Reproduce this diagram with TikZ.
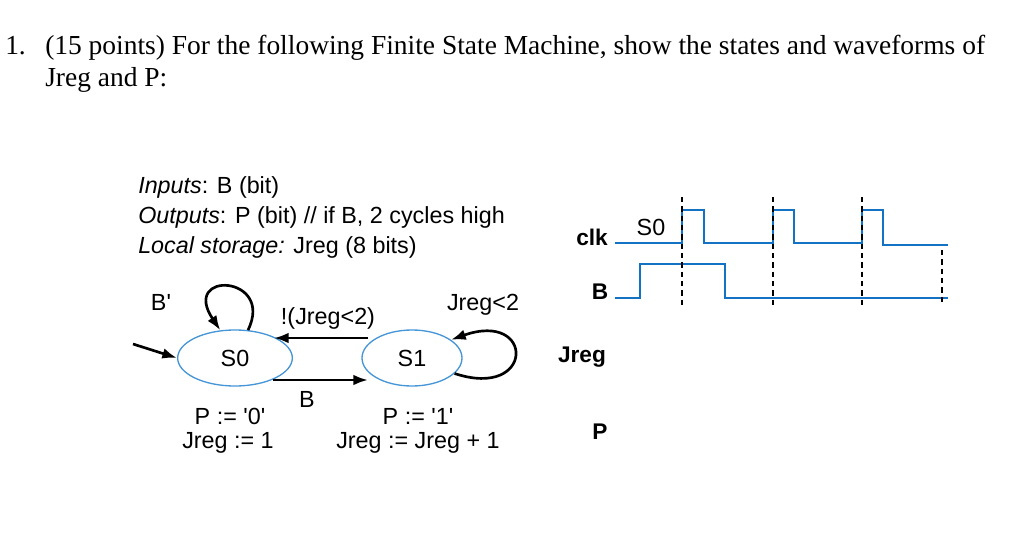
\documentclass[tikz,border=0pt]{standalone}
\usepackage{fontspec}
\setmainfont{Liberation Serif}
\newfontfamily\hv{Liberation Sans}
\usetikzlibrary{arrows.meta,shapes.geometric,calc}
\definecolor{wave}{RGB}{20,114,196}
\definecolor{ell}{RGB}{70,150,215}
\begin{document}
\begin{tikzpicture}[x=0.75pt,y=-0.75pt,
  tt/.style={anchor=base west,inner sep=0,font=\fontsize{20.6}{22}\selectfont},
  dg/.style={inner sep=0,font=\hv\fontsize{17.5}{19}\selectfont},
  bd/.style={inner sep=0,font=\hv\bfseries\fontsize{17}{19}\selectfont},
  st/.style={draw=ell,line width=1pt,ellipse},
  ar/.style={line width=2pt,-{Latex[length=11pt,width=8pt]}},
  wv/.style={draw=wave,line width=2.2pt},
  vd/.style={line width=0.8pt,dash pattern=on 4pt off 3pt}]
\useasboundingbox (0,0) rectangle (1012,549);
\node[tt] (n1) at (5,55) {1.};
\node[tt] (t1) at (45,55) {(15 points) For the following Finite State Machine, show the states and waveforms of};
\node[tt] (t2) at (45,87) {Jreg and P:};
\node[dg,anchor=west] (i1) at (138,187) {\textit{Inputs}: B (bit)};
\node[dg,anchor=west] (i2) at (138,217) {\textit{Outputs}: P (bit) // if B, 2 cycles high};
\node[dg,anchor=west] (i3) at (138,247) {\textit{Local storage:} Jreg (8 bits)};
\node[dg,st,minimum width=86pt,minimum height=42pt] (s0) at (235,358) {S0};
\node[dg,st,minimum width=75pt,minimum height=42pt] (s1) at (412,358) {S1};
\coordinate (init) at (133,344);
\draw[ar] (init) -- (s0.west);
\coordinate (a1) at (368,338);
\coordinate (a2) at (274,338);
\draw[ar] (a1) -- (a2);
\coordinate (b1) at (273,380);
\coordinate (b2) at (368,380);
\draw[ar] (b1) -- (b2);
\node[dg] (l1) at (328,318) {!(Jreg<2)};
\node[dg] (l2) at (307,399) {B};
\draw[line width=2pt,-{Latex[length=11pt,width=8pt]}] (s0.65) .. controls (275,275) and (180,270) .. (s0.118);
\node[dg] (l3) at (161,302) {B'};
\draw[line width=2pt,-{Latex[length=11pt,width=8pt]}] (s1.-20) .. controls (535,400) and (535,310) .. (s1.25);
\node[dg] (l4) at (483,305) {Jreg<2};
\node[dg] (p0) at (230,416) {P := '0'};
\node[dg] (j0) at (228,443) {Jreg := 1};
\node[dg] (p1) at (418,416) {P := '1'};
\node[dg] (j1) at (418,443) {Jreg := Jreg + 1};
\node[bd] (clk) at (592,237) {clk};
\node[dg] (s0l) at (651,227) {S0};
\node[bd] (bl) at (600,292) {B};
\node[bd] (jl) at (582,357) {Jreg};
\node[bd] (pl) at (600,432) {P};
\draw[wv] (615,243) -- (682,243) -- (682,210) -- (704,210) -- (704,243) -- (773,243) -- (773,210) -- (794,210) -- (794,243) -- (862,243) -- (862,210) -- (883,210) -- (883,245) -- (948,245);
\draw[wv] (615,298) -- (640,298) -- (640,264) -- (725,264) -- (725,298) -- (948,298);
\draw[vd] (682,197) -- (682,305);
\draw[vd] (773,197) -- (773,305);
\draw[vd] (862,197) -- (862,305);
\draw[vd] (942,250) -- (942,305);
\end{tikzpicture}
\end{document}
